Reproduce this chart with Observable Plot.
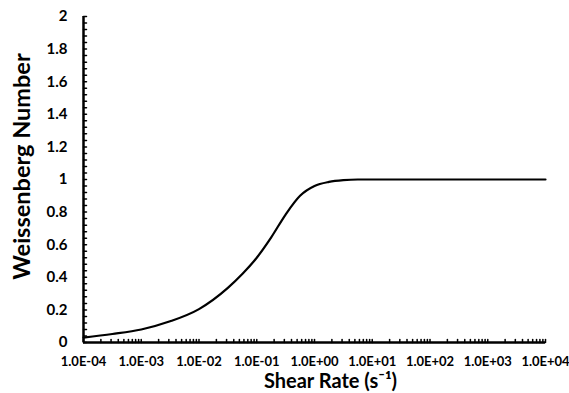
<!DOCTYPE html>
<html><head><meta charset="utf-8">
<script src="https://cdn.jsdelivr.net/npm/d3@7"></script>
<script src="https://cdn.jsdelivr.net/npm/@observablehq/plot@0.6"></script>
<style>body{margin:0;background:#fff}</style>
</head><body><div id="chart"></div>
<script>
const shearRate = [1e-4, 3.16e-4, 1e-3, 3.16e-3, 1e-2, 3.16e-2, 5.62e-2, 0.1, 0.178, 0.316, 0.562, 1, 1.78, 3.16, 5.62, 10, 100, 1000, 10000];
const weissenberg = [0.03, 0.052, 0.08, 0.13, 0.205, 0.335, 0.42, 0.52, 0.645, 0.785, 0.9, 0.96, 0.985, 0.996, 1.0, 1.0, 1.0, 1.0, 1.0];
const xMajorTicks = [1e-4, 1e-3, 1e-2, 1e-1, 1, 10, 100, 1000, 10000];
const xTickLabels = ["1.0E-04", "1.0E-03", "1.0E-02", "1.0E-01", "1.0E+00", "1.0E+01", "1.0E+02", "1.0E+03", "1.0E+04"];
const yMajorTicks = [0, 0.2, 0.4, 0.6, 0.8, 1, 1.2, 1.4, 1.6, 1.8, 2];
const yTickLabels = ["0", "0.2", "0.4", "0.6", "0.8", "1", "1.2", "1.4", "1.6", "1.8", "2"];
const minorMultipliers = [2, 3, 4, 5, 6, 7, 8, 9];
const yMinorStep = 0.04;
const xTitle = "Shear Rate (s\u207B\u00B9)";
const yTitle = "Weissenberg Number";

const data = shearRate.map((x, i) => ({x, y: weissenberg[i]}));
const xMinorTicks = xMajorTicks.slice(0, -1).flatMap(d => minorMultipliers.map(m => d * m));
const xAllTicks = xMajorTicks.concat(xMinorTicks);
const yAllTicks = d3.range(0, Math.round(2 / yMinorStep) + 1).map(i => +(i * yMinorStep).toFixed(2));
const tickShape = {draw(context, l) { context.moveTo(0, 0); context.lineTo(0, -l); }};

const chart = Plot.plot({
  width: 569,
  height: 393,
  marginLeft: 83,
  marginRight: 24,
  marginTop: 16,
  marginBottom: 51,
  style: {fontFamily: "Lato, sans-serif", background: "#fff", color: "#000", overflow: "visible"},
  x: {type: "log", domain: [1e-4, 1e4]},
  y: {domain: [0, 2]},
  marks: [
    Plot.axisX({ticks: xMajorTicks, tickFormat: d => xTickLabels[xMajorTicks.indexOf(d)], tickSize: 0, tickPadding: 14, fontSize: 13, fontWeight: "bold", label: null}),
    Plot.axisY({ticks: yMajorTicks, tickFormat: d => yTickLabels[yMajorTicks.indexOf(d)], tickSize: 0, tickPadding: 16, fontSize: 15, fontWeight: "bold", label: null}),
    Plot.vector(xAllTicks, {x: d => d, y: 0, length: 3, rotate: 0, anchor: "start", shape: tickShape, stroke: "#000", strokeWidth: 1.5}),
    Plot.vector(yAllTicks, {x: 1e-4, y: d => d, length: 3, rotate: 90, anchor: "start", shape: tickShape, stroke: "#000", strokeWidth: 1.5}),
    Plot.ruleY([0], {stroke: "#000", strokeWidth: 2.5}),
    Plot.ruleX([1e-4], {stroke: "#000", strokeWidth: 2.5}),
    Plot.line(data, {x: "x", y: "y", curve: "monotone-x", stroke: "#000", strokeWidth: 2.2}),
    Plot.text([xTitle], {text: d => d, frameAnchor: "bottom", textAnchor: "middle", dx: 16, dy: 45, lineAnchor: "bottom", fontSize: 20, fontWeight: "bold", fill: "#000"}),
    Plot.text([yTitle], {text: d => d, frameAnchor: "left", textAnchor: "middle", dx: -54, dy: -13, rotate: -90, lineAnchor: "bottom", fontSize: 23.5, fontWeight: "bold", fill: "#000"})
  ]
});
document.getElementById("chart").append(chart);
</script>
</body></html>
